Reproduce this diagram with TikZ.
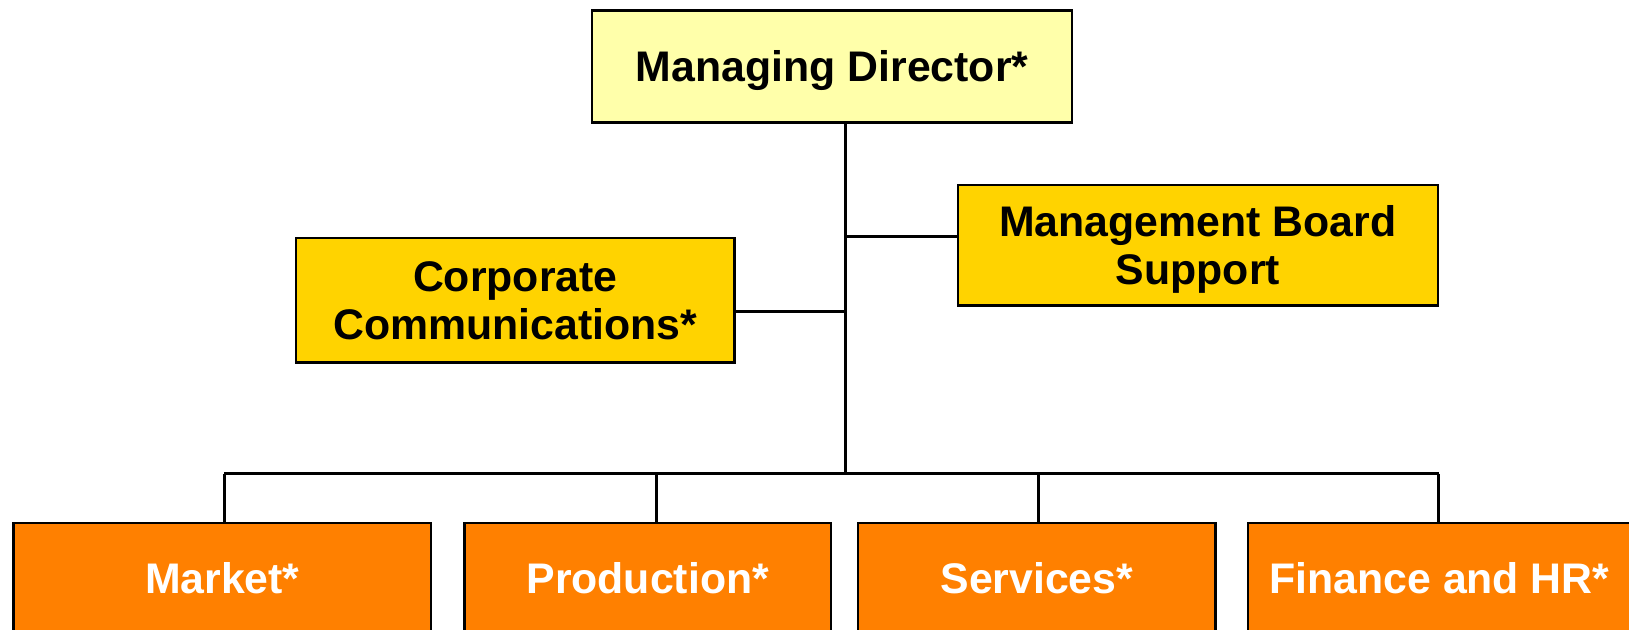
\documentclass[tikz,border=0pt]{standalone}
\usepackage{fontspec}
\setmainfont{Liberation Sans}
\definecolor{paleyel}{RGB}{255,255,170}
\definecolor{goldbox}{RGB}{255,211,0}
\definecolor{orangebox}{RGB}{255,128,0}
\tikzset{
  box/.style={draw=black, line width=2.4pt, inner sep=0pt, align=center,
    text depth=0pt, font=\fontsize{42.8}{48}\selectfont\bfseries},
  topbox/.style={box, fill=paleyel},
  staffbox/.style={box, fill=goldbox},
  unitbox/.style={box, fill=orangebox, text=white, anchor=north,
    text height=71pt, text depth=100pt, minimum height=171pt},
  conn/.style={draw=black, line width=3pt}
}
\begin{document}
\begin{tikzpicture}[x=1.0389pt, y=-1.0389pt]
\useasboundingbox (0,0) rectangle (1568,606.4);
\clip (0,0) rectangle (1568,606.4);
\node[topbox, minimum width=480pt, minimum height=112.2pt] (md) at (801,64) {Managing Director*};
\node[staffbox, minimum width=480pt, minimum height=120.5pt] (mbs) at (1153,236) {Management Board\\Support};
\node[staffbox, minimum width=438.4pt, minimum height=124.7pt] (cc) at (496,289) {Corporate\\Communications*};
\node[unitbox, minimum width=417.6pt] (mk) at (214,502) {Market*};
\node[unitbox, minimum width=366.7pt] (pr) at (623.5,502) {Production*};
\node[unitbox, minimum width=357.4pt] (sv) at (998,502) {Services*};
\node[unitbox, minimum width=518.4pt] (fh) at (1450.5,502) {Finance and HR*\hspace*{135pt}};
\coordinate (bus) at (814,456);
\coordinate (j1) at (814,228);
\coordinate (j2) at (814,300);
\coordinate (b1) at (216,456);
\coordinate (b2) at (632,456);
\coordinate (b3) at (1000,456);
\coordinate (b4) at (1385,456);
\draw[conn] (md.south -| bus) -- (bus);
\draw[conn] (j1) -- (j1 -| mbs.west);
\draw[conn] (j2) -- (j2 -| cc.east);
\draw[conn] (b1) -- (b4);
\draw[conn] (b1) -- (b1 |- mk.north);
\draw[conn] (b2) -- (b2 |- pr.north);
\draw[conn] (b3) -- (b3 |- sv.north);
\draw[conn] (b4) -- (b4 |- fh.north);
\end{tikzpicture}
\end{document}
